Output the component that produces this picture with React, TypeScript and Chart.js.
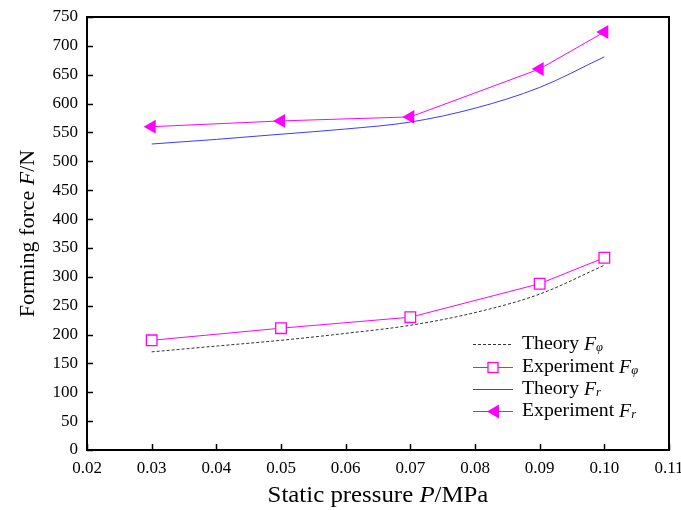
import React, { useEffect, useRef } from "react";
import { Chart, registerables } from "chart.js";

Chart.register(...registerables);

// Static pressure P (MPa)
const pressure = [0.03, 0.05, 0.07, 0.09, 0.1];
const theoryPressure = [0.03, 0.04, 0.05, 0.06, 0.07, 0.08, 0.09, 0.1];

// Forming force F (N)
const theoryFphi = [170, 180, 190, 202, 216, 238, 270, 320];
const experimentFphi = [190, 211, 230, 288, 333];
const theoryFr = [530, 538, 547, 556, 568, 592, 628, 681];
const experimentFr = [560, 570, 577, 660, 724];

const xTicks = [0.02, 0.03, 0.04, 0.05, 0.06, 0.07, 0.08, 0.09, 0.1, 0.11];

const SERIF = "'Liberation Serif', 'Times New Roman', serif";
const MAGENTA = "#ff00ff";
const BLUE = "#3b3bff";
const DASH_GRAY = "#333333";

const toPoints = (xs: number[], ys: number[]) => xs.map((x, i) => ({ x, y: ys[i] }));

type Part = { text: string; italic?: boolean; sub?: boolean };

function drawParts(
  ctx: CanvasRenderingContext2D,
  parts: Part[],
  x: number,
  y: number,
  size: number,
  align: "left" | "center",
  stretch = 1
) {
  const fontOf = (p: Part) => `${p.italic ? "italic " : ""}${p.sub ? Math.round(size * 0.65) : size}px ${SERIF}`;
  let total = 0;
  for (const p of parts) {
    ctx.font = fontOf(p);
    total += ctx.measureText(p.text).width * stretch;
  }
  let cx = align === "center" ? x - total / 2 : x;
  ctx.textAlign = "left";
  ctx.textBaseline = "middle";
  for (const p of parts) {
    ctx.font = fontOf(p);
    const w = ctx.measureText(p.text).width;
    ctx.save();
    ctx.translate(cx, p.sub ? y + size * 0.2 : y);
    ctx.scale(stretch, 1);
    ctx.fillText(p.text, 0, 0);
    ctx.restore();
    cx += w * stretch;
  }
}

const framePlugin = {
  id: "frameAndLabels",
  afterDraw(chart: any) {
    const { ctx, chartArea } = chart;
    const { left, right, top, bottom } = chartArea;
    const xs = chart.scales.x;
    const ys = chart.scales.y;
    ctx.save();
    ctx.strokeStyle = "#000";
    ctx.fillStyle = "#000";

    // inward tick marks
    ctx.lineWidth = 1.5;
    ctx.beginPath();
    for (const t of xTicks) {
      const px = Math.round(xs.getPixelForValue(t)) + 0.5;
      ctx.moveTo(px, bottom);
      ctx.lineTo(px, bottom - 6);
    }
    for (const t of ys.ticks) {
      const py = Math.round(ys.getPixelForValue(t.value)) + 0.5;
      ctx.moveTo(left, py);
      ctx.lineTo(left + 6, py);
    }
    ctx.stroke();

    // frame
    ctx.lineWidth = 2;
    ctx.strokeRect(left, top, right - left, bottom - top);

    // axis titles
    drawParts(
      ctx,
      [{ text: "Static pressure " }, { text: "P", italic: true }, { text: "/MPa" }],
      (left + right) / 2,
      496,
      23,
      "center",
      1.08
    );
    ctx.save();
    ctx.translate(28, (top + bottom) / 2);
    ctx.rotate(-Math.PI / 2);
    drawParts(ctx, [{ text: "Forming force " }, { text: "F", italic: true }, { text: "/N" }], 0, 0, 22, "center");
    ctx.restore();

    // legend
    const lx0 = 473;
    const lx1 = 513;
    const tx = 522;
    const rows = [344, 367, 389, 411];
    const entries = [
      { label: "Theory ", sub: "φ", color: DASH_GRAY, dash: [3, 2], marker: "" },
      { label: "Experiment ", sub: "φ", color: MAGENTA, dash: [], marker: "square" },
      { label: "Theory ", sub: "r", color: BLUE, dash: [], marker: "" },
      { label: "Experiment ", sub: "r", color: MAGENTA, dash: [], marker: "triangle" },
    ];
    entries.forEach((e, i) => {
      const y = rows[i] + 0.5;
      ctx.save();
      ctx.strokeStyle = e.color;
      ctx.lineWidth = 1;
      ctx.setLineDash(e.dash);
      ctx.beginPath();
      ctx.moveTo(lx0, y);
      ctx.lineTo(lx1, y);
      ctx.stroke();
      ctx.setLineDash([]);
      const mx = (lx0 + lx1) / 2;
      if (e.marker === "square") {
        ctx.fillStyle = "#fff";
        ctx.lineWidth = 1.3;
        ctx.fillRect(mx - 5, y - 5, 10, 10);
        ctx.strokeRect(mx - 5, y - 5, 10, 10);
      } else if (e.marker === "triangle") {
        ctx.fillStyle = MAGENTA;
        ctx.beginPath();
        ctx.moveTo(mx - 6, y);
        ctx.lineTo(mx + 6, y - 7);
        ctx.lineTo(mx + 6, y + 7);
        ctx.closePath();
        ctx.fill();
      }
      ctx.restore();
      ctx.fillStyle = "#000";
      drawParts(
        ctx,
        [{ text: e.label }, { text: "F", italic: true }, { text: e.sub, italic: true, sub: true }],
        tx,
        y,
        19,
        "left",
        1.04
      );
    });
    ctx.restore();
  },
};

export default function App() {
  const canvasRef = useRef<HTMLCanvasElement | null>(null);

  useEffect(() => {
    document.body.style.margin = "0";
    const canvas = canvasRef.current;
    if (!canvas) return;
    const chart = new Chart(canvas, {
      type: "line",
      data: {
        datasets: [
          {
            label: "Theory Fφ",
            data: toPoints(theoryPressure, theoryFphi),
            borderColor: DASH_GRAY,
            borderWidth: 1,
            borderDash: [3, 2],
            pointRadius: 0,
            cubicInterpolationMode: "monotone",
            fill: false,
          },
          {
            label: "Experiment Fφ",
            data: toPoints(pressure, experimentFphi),
            borderColor: MAGENTA,
            borderWidth: 1,
            pointStyle: "rect",
            pointRadius: 7.5,
            pointBorderWidth: 1.3,
            pointBorderColor: MAGENTA,
            pointBackgroundColor: "#ffffff",
            tension: 0,
            fill: false,
          },
          {
            label: "Theory Fr",
            data: toPoints(theoryPressure, theoryFr),
            borderColor: BLUE,
            borderWidth: 1,
            pointRadius: 0,
            cubicInterpolationMode: "monotone",
            fill: false,
          },
          {
            label: "Experiment Fr",
            data: toPoints(pressure, experimentFr),
            borderColor: MAGENTA,
            borderWidth: 1,
            pointStyle: "triangle",
            pointRotation: -90,
            pointRadius: 8,
            pointBorderWidth: 0,
            pointBackgroundColor: MAGENTA,
            pointBorderColor: MAGENTA,
            tension: 0,
            fill: false,
          },
        ],
      },
      options: {
        responsive: false,
        animation: false,
        devicePixelRatio: 1,
        layout: { padding: { left: 0, top: 17, right: 12, bottom: 0 } },
        plugins: {
          legend: { display: false },
          tooltip: { enabled: false },
        },
        scales: {
          x: {
            type: "linear",
            min: 0.02,
            max: 0.11,
            afterBuildTicks: (scale: any) => {
              scale.ticks = xTicks.map((v) => ({ value: v }));
            },
            afterFit: (scale: any) => {
              scale.height = 60;
              scale.paddingLeft = 0;
              scale.paddingRight = 0;
            },
            grid: { display: false, drawTicks: false },
            border: { display: false },
            ticks: {
              padding: 8,
              color: "#000",
              font: { family: SERIF, size: 17 },
              maxRotation: 0,
              autoSkip: false,
              callback: (v: any) => Number(v).toFixed(2),
            },
          },
          y: {
            type: "linear",
            min: 0,
            max: 750,
            afterFit: (scale: any) => {
              scale.width = 87;
              scale.paddingTop = 0;
              scale.paddingBottom = 0;
            },
            grid: { display: false, drawTicks: false },
            border: { display: false },
            ticks: {
              stepSize: 50,
              padding: 9,
              color: "#000",
              font: { family: SERIF, size: 17 },
            },
          },
        },
      },
      plugins: [framePlugin],
    } as any);
    return () => chart.destroy();
  }, []);

  return (
    <div style={{ width: 681, height: 510, background: "#fff" }}>
      <canvas ref={canvasRef} width={681} height={510} style={{ display: "block" }} />
    </div>
  );
}
